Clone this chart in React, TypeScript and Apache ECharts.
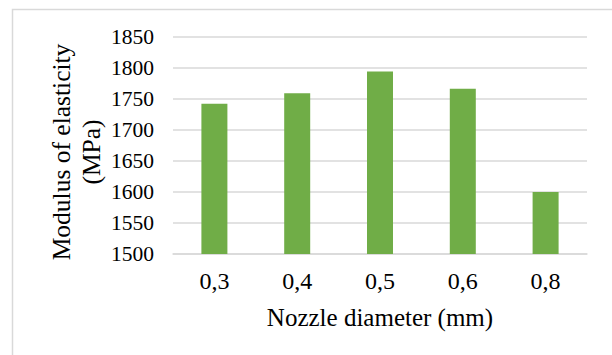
import React, { useEffect, useRef } from "react";
import * as echarts from "echarts";

const categories = ["0,3", "0,4", "0,5", "0,6", "0,8"];
const modulus = [1742, 1759, 1794, 1766, 1600];
const yTitle = "Modulus of elasticity\n(MPa)";
const xTitle = "Nozzle diameter (mm)";

export default function App() {
  const ref = useRef<HTMLDivElement>(null);
  useEffect(() => {
    const chart = echarts.init(ref.current!, null, { renderer: "svg" });
    const font = "Liberation Serif";
    chart.setOption({
      animation: false,
      backgroundColor: "#ffffff",
      grid: { left: 173, right: 25, top: 36.7, bottom: 101, containLabel: false },
      xAxis: {
        type: "category",
        data: categories,
        axisLine: { show: true, lineStyle: { color: "#d9d9d9", width: 1.5 } },
        axisTick: { show: false },
        axisLabel: { color: "#000", fontFamily: font, fontSize: 24, margin: 15 },
      },
      yAxis: {
        type: "value",
        min: 1500,
        max: 1850,
        interval: 50,
        axisLine: { show: false },
        axisTick: { show: false },
        axisLabel: {
          color: "#000",
          fontFamily: font,
          fontSize: 21.5,
          margin: 19,
          formatter: (v: number) => String(v),
        },
        splitLine: { show: true, lineStyle: { color: "#d9d9d9", width: 1.5 } },
      },
      series: [
        {
          type: "bar",
          data: modulus,
          barWidth: 26,
          itemStyle: { color: "#70AD47" },
        },
      ],
      graphic: [
        {
          type: "rect",
          shape: { x: 12.5, y: 9.5, width: 700, height: 400 },
          style: { fill: "none", stroke: "#d9d9d9", lineWidth: 1.5 },
          silent: true,
          z: -1,
        },
        {
          type: "text",
          x: 76,
          y: 152,
          rotation: Math.PI / 2,
          style: {
            text: yTitle,
            fontFamily: font,
            fontSize: 25.5,
            lineHeight: 30,
            fill: "#000",
            align: "center",
            verticalAlign: "middle",
          },
        },
        {
          type: "text",
          x: 380,
          y: 317,
          style: {
            text: xTitle,
            fontFamily: font,
            fontSize: 25,
            fill: "#000",
            align: "center",
            verticalAlign: "middle",
          },
        },
      ],
    });
    return () => chart.dispose();
  }, []);
  return (
    <div
      ref={ref}
      style={{ position: "absolute", left: 0, top: 0, width: 612, height: 355 }}
    />
  );
}
